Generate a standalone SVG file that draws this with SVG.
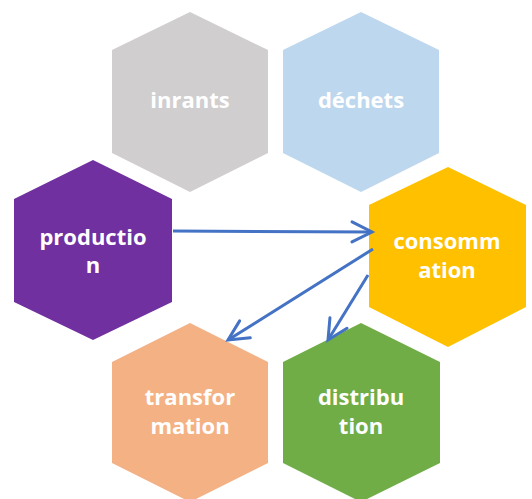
<svg xmlns="http://www.w3.org/2000/svg" width="532" height="499" viewBox="0 0 532 499">
<defs>
<style>
.lbl{font-family:"Open Sans","Liberation Sans",sans-serif;font-weight:bold;font-size:22px;fill:#FFFFFF;text-anchor:middle}
.conn{stroke:#4472C4;stroke-width:3;fill:none;marker-end:url(#arr)}
</style>
<marker id="arr" markerUnits="userSpaceOnUse" viewBox="-24 -13 28 26" markerWidth="28" markerHeight="26" refX="0" refY="0" orient="auto">
<path d="M-20,-10 L0,0 L-20,10" fill="none" stroke="#4472C4" stroke-width="3" stroke-linecap="round" stroke-linejoin="miter"/>
</marker>
</defs>
<rect width="532" height="499" fill="#FFFFFF"/>
<g id="inrants">
<polygon points="190,12 268,50 268,153 190,192 112,153 112,50" fill="#D0CECE"/>
<text class="lbl" x="190" y="108">inrants</text>
</g>
<g id="dechets">
<polygon points="361,12 439,50 439,153 361,192 283,153 283,50" fill="#BDD7EE"/>
<text class="lbl" x="361" y="108">déchets</text>
</g>
<g id="production">
<polygon points="93,160 172,199 172,302 93,340 14,302 14,199" fill="#7030A0"/>
<text class="lbl" x="93" y="245">productio</text>
<text class="lbl" x="93" y="273">n</text>
</g>
<g id="consommation">
<polygon points="448,167 526,205 526,307 448,347 369,307 369,205" fill="#FFC000"/>
<text class="lbl" x="447" y="249">consomm</text>
<text class="lbl" x="447" y="278">ation</text>
</g>
<g id="transformation">
<polygon points="190,323 268,362 268,463 190,502 112,463 112,362" fill="#F4B183"/>
<text class="lbl" x="190" y="405">transfor</text>
<text class="lbl" x="190" y="434">mation</text>
</g>
<g id="distribution">
<polygon points="361,323 440,362 440,463 361,502 283,463 283,362" fill="#70AD47"/>
<text class="lbl" x="361" y="405">distribu</text>
<text class="lbl" x="361" y="434">tion</text>
</g>
<g id="connectors">
<line class="conn" x1="173" y1="231" x2="372" y2="232"/>
<line class="conn" x1="373" y1="249" x2="228" y2="340"/>
<line class="conn" x1="368" y1="275" x2="328" y2="340"/>
</g>
</svg>
